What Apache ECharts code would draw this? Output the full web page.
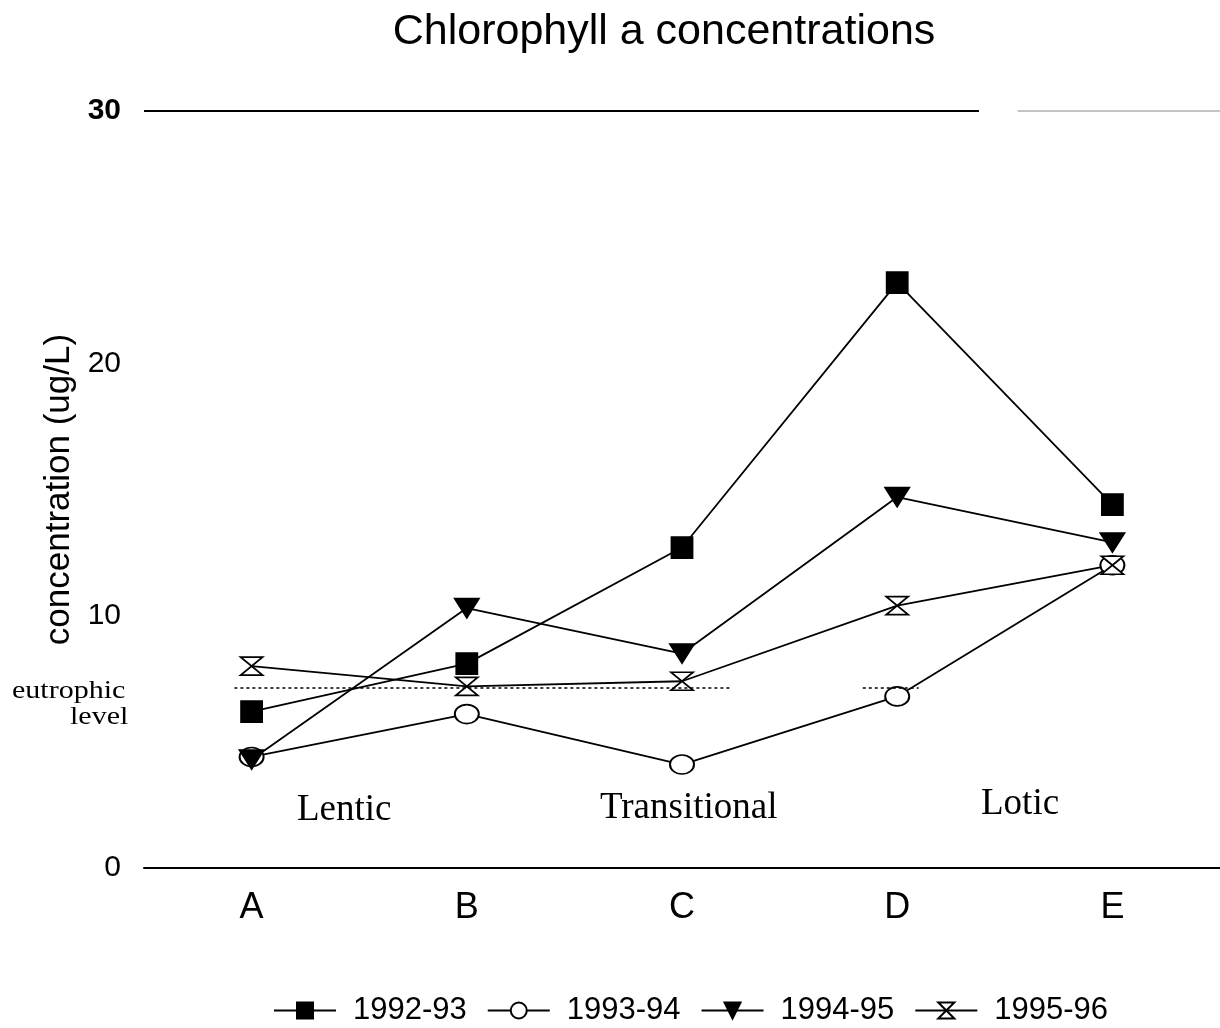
<!DOCTYPE html>
<html>
<head>
<meta charset="utf-8">
<script src="https://cdn.jsdelivr.net/npm/echarts@6/dist/echarts.min.js"></script>
<style>
  html, body { margin: 0; padding: 0; background: #fff; }
  #main { width: 1220px; height: 1028px; }
</style>
</head>
<body>
<div id="main"></div>
<script>
// sites along the reservoir
var sites = ["A", "B", "C", "D", "E"];
// chlorophyll a (ug/L) per year
var y1992 = [6.2, 8.1, 12.7, 23.2, 14.4];
var y1993 = [4.4, 6.1, 4.1, 6.8, 12.0];
var y1994 = [4.3, 10.3, 8.5, 14.7, 12.9];
var y1995 = [8.0, 7.2, 7.4, 10.4, 12.0];
var yTicks = [0, 10, 20, 30];
var eutrophic = 7.15;
// eutrophic reference segments, in site units (0..5)
var eutroSegs = [[0.42, 2.73], [3.34, 3.6]];
var zones = ["Lentic", "Transitional", "Lotic"];

var hourglass = "path://M0,0 L10,0 L0,10 L10,10 Z";
var serif = "'Liberation Serif', 'DejaVu Serif', serif";
var sans = "'Liberation Sans', Arial, sans-serif";

function lineSeries(name, data, symbol, size, fill, extra) {
  var s = {
    name: name,
    type: "line",
    data: data,
    symbol: symbol,
    symbolSize: size,
    showAllSymbol: true,
    lineStyle: { color: "#000", width: 1.8 },
    itemStyle: { color: fill, borderColor: "#000", borderWidth: 1.8 },
    emphasis: { disabled: true },
    z: 3
  };
  for (var k in extra) s[k] = extra[k];
  return s;
}

var chart = echarts.init(document.getElementById("main"));
chart.setOption({
  animation: false,
  title: {
    text: "Chlorophyll a concentrations",
    left: 659, top: 6, textAlign: "center",
    textStyle: { fontFamily: sans, fontSize: 43, fontWeight: "normal", color: "#000" }
  },
  grid: { left: 144, right: 0, top: 111, bottom: 160 },
  xAxis: [
    {
      type: "category",
      data: sites,
      axisLine: { lineStyle: { color: "#000", width: 2 } },
      axisTick: { alignWithLabel: true, length: 10, lineStyle: { color: "#000", width: 2 } },
      axisLabel: { color: "#000", fontFamily: sans, fontSize: 36, margin: 22 }
    },
    { type: "value", min: 0, max: 5, show: false }
  ],
  yAxis: {
    type: "value",
    min: 0, max: 30, interval: 10,
    name: "concentration (ug/L)",
    nameLocation: "middle",
    nameGap: 58,
    nameTextStyle: { fontFamily: sans, fontSize: 35, color: "#000" },
    axisLine: { show: false },
    axisTick: { show: false },
    splitLine: { show: false },
    axisLabel: {
      margin: 23,
      fontFamily: sans, fontSize: 30, color: "#000",
      formatter: function (v) {
        return yTicks.indexOf(v) < 0 ? "" : (v === 30 ? "{b|" + v + "}" : String(v));
      },
      rich: { b: { fontFamily: sans, fontSize: 30, fontWeight: "bold", color: "#000" } }
    }
  },
  legend: {
    bottom: -3, left: 268,
    itemWidth: 62, itemHeight: 20, itemGap: 20,
    textStyle: { fontFamily: sans, fontSize: 31, color: "#000", padding: [0, 0, 0, 12] },
    data: ["1992-93", "1993-94", "1994-95", "1995-96"]
  },
  series: [
    lineSeries("1992-93", y1992, "rect", 21, "#000", {}),
    lineSeries("1993-94", y1993, "circle", [24, 19], "#fff", {}),
    lineSeries("1994-95", y1994, "triangle", [24, 19], "#000", { symbolRotate: 180 }),
    lineSeries("1995-96", y1995, hourglass, [22, 18], "#fff", {}),
    {
      name: "reference",
      type: "line",
      xAxisIndex: 1,
      data: [],
      silent: true,
      markLine: {
        silent: true, symbol: "none",
        label: { show: false },
        data: eutroSegs.map(function (s) {
          return [
            { coord: [s[0], eutrophic], lineStyle: { color: "#000", type: [3, 3], width: 1.5 } },
            { coord: [s[1], eutrophic] }
          ];
        }).concat([
          [{ coord: [0, 30], lineStyle: { color: "#000", type: "solid", width: 2 } }, { coord: [3.88, 30] }],
          [{ coord: [4.06, 30], lineStyle: { color: "#c4c4c4", type: "solid", width: 2 } }, { coord: [5, 30] }]
        ])
      }
    }
  ],
  graphic: [
    { type: "text", left: 12, top: 679, scaleX: 1.2, style: { text: "eutrophic", font: "25px " + serif, fill: "#000" } },
    { type: "text", left: 70, top: 705, scaleX: 1.2, style: { text: "level", font: "25px " + serif, fill: "#000" } },
    { type: "text", left: 297, top: 792, style: { text: zones[0], font: "37px " + serif, fill: "#000" } },
    { type: "text", left: 600, top: 790, style: { text: zones[1], font: "37px " + serif, fill: "#000" } },
    { type: "text", left: 981, top: 786, style: { text: zones[2], font: "37px " + serif, fill: "#000" } }
  ]
});
</script>
</body>
</html>
